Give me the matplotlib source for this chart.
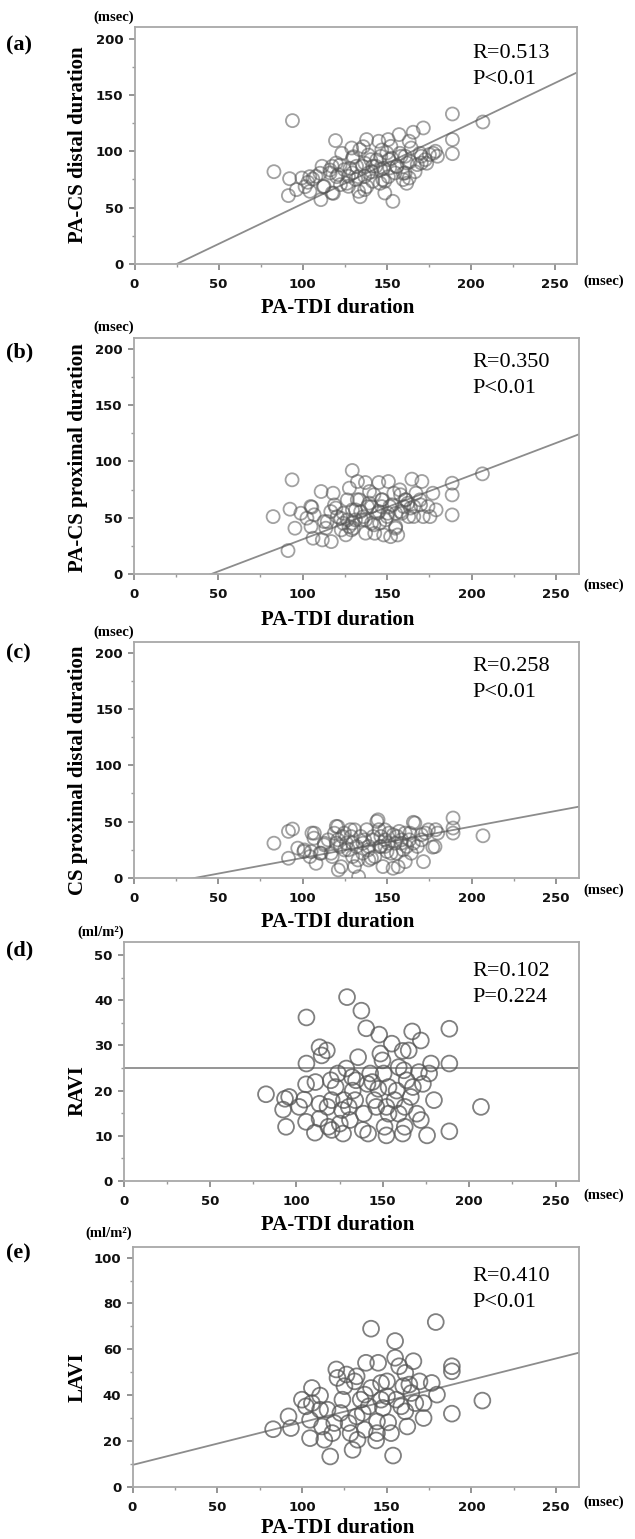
import matplotlib
matplotlib.use("Agg")
import matplotlib.pyplot as plt
from matplotlib.ticker import MultipleLocator

W, H = 635, 1539

# ---- data (PA-TDI duration in msec on x) ----
a_x = [82.9, 92.2, 91.5, 93.9, 96.3, 99.5, 103.1, 104.3, 106.0, 107.9, 110.8, 111.5, 112.7, 116.3,
       117.5, 119.5, 119.9, 121.1, 122.4, 124.8, 127.2, 129.1, 129.6, 131.5, 133.2, 133.9, 135.6,
       136.8, 138.0, 139.2, 140.4, 141.6, 143.5, 145.2, 146.4, 147.6, 148.8, 150.0, 150.8, 151.7,
       153.6, 154.9, 157.3, 158.5, 159.7, 162.1, 163.3, 164.5, 165.7, 168.1, 170.5, 171.7, 175.3,
       178.9, 180.1, 189.0, 189.0, 189.0, 207.1, 163.3, 132.0, 141.6, 151.3, 160.9, 136.8, 127.2,
       146.4, 156.0, 170.5, 117.5, 148.8, 129.6, 152.4, 160.9, 172.9,
       104.2, 110.3, 116.2, 120.2, 122.2, 128.1, 130.1, 133.1, 137.0, 139.0, 141.0, 144.0, 147.0,
       147.9, 150.9, 152.9, 155.9, 157.8, 159.8, 163.8, 166.8, 169.7, 173.7, 177.6, 112.3, 126.2,
       138.1, 146.0, 134.1, 118.2, 101.4, 161.8, 123.2, 136.0]
a_y = [81.9, 75.7, 60.7, 127.2, 66.0, 76.3, 72.5, 64.5, 75.4, 77.8, 57.1, 86.7, 68.9, 80.8,
       63.0, 109.5, 89.6, 79.3, 70.4, 83.7, 77.8, 102.9, 94.1, 74.9, 64.5, 101.5, 86.7,
       66.0, 110.4, 80.8, 92.6, 73.4, 86.7, 108.9, 95.6, 74.9, 63.0, 98.5, 110.4, 85.2,
       55.6, 80.8, 114.8, 95.6, 74.9, 89.6, 76.3, 102.9, 116.9, 88.2, 95.6, 120.7, 97.1,
       100.0, 95.6, 133.1, 110.4, 97.9, 126.0, 108.9, 86.7, 86.7, 92.6, 95.6, 77.8, 68.9,
       83.7, 86.7, 89.6, 86.7, 73.4, 80.8, 104.4, 80.8, 92.6,
       77.5, 80.5, 83.4, 77.5, 87.8, 84.9, 95.2, 77.5, 89.4, 96.7, 81.9, 92.3, 101.2,
       84.9, 77.5, 93.8, 86.3, 98.2, 80.5, 90.8, 81.9, 98.2, 89.4, 98.2, 68.6, 71.6,
       68.6, 71.6, 59.7, 62.7, 68.6, 71.6, 98.2, 104.1]

b_x = [82.6, 91.4, 92.6, 93.8, 95.5, 99.0, 102.6, 105.0, 105.5, 106.2, 111.0, 111.7, 114.6, 117.0,
       118.1, 118.9, 120.5, 122.9, 124.1, 126.5, 127.7, 129.4, 130.0, 131.3, 132.5, 133.7, 134.9,
       137.2, 138.4, 139.6, 140.8, 142.7, 144.4, 145.1, 146.8, 148.0, 149.2, 150.8, 151.6, 154.0,
       155.1, 156.3, 157.5, 158.7, 161.1, 162.8, 164.7, 165.9, 167.1, 170.6, 171.4, 174.2, 175.4,
       177.1, 179.0, 188.5, 188.5, 188.5, 206.4, 131.3, 140.8, 150.4, 159.9, 136.1, 124.1, 145.6,
       155.1, 162.3, 126.5, 146.8, 169.5, 128.9,
       104.9, 106.9, 112.8, 116.7, 119.7, 122.6, 127.5, 129.5, 132.4, 134.4, 137.3, 139.3, 142.2,
       145.2, 147.1, 150.1, 153.0, 155.0, 158.0, 160.9, 163.9, 165.8, 169.8, 125.6, 137.3, 152.1,
       113.8, 142.2, 129.5, 158.0]
b_y = [51.0, 20.8, 57.6, 83.7, 40.7, 54.0, 49.6, 42.1, 59.3, 31.8, 73.3, 30.3, 46.6, 28.8,
       71.8, 61.4, 51.0, 39.2, 54.0, 48.1, 76.3, 92.0, 40.7, 57.0, 82.2, 65.9, 48.1,
       81.3, 59.9, 73.3, 45.1, 36.2, 54.0, 81.3, 65.9, 34.7, 48.1, 82.2, 59.9, 71.8,
       42.1, 34.7, 74.8, 54.0, 65.9, 51.0, 84.3, 59.9, 71.8, 82.2, 51.0, 59.9, 51.0,
       71.8, 57.0, 80.7, 70.3, 52.5, 89.0, 48.1, 59.9, 54.0, 59.9, 51.0, 45.1, 45.1,
       54.0, 62.9, 65.9, 59.9, 65.9, 39.2,
       60.0, 52.6, 46.6, 55.5, 58.6, 49.6, 42.2, 45.2, 66.0, 55.5, 48.1, 63.0, 43.7,
       55.5, 66.0, 51.1, 61.5, 40.7, 55.5, 66.0, 58.6, 51.1, 61.5, 34.8, 36.3, 33.2,
       40.7, 70.4, 57.0, 70.4]

c_x = [83.0, 91.6, 91.6, 94.0, 97.1, 100.7, 104.3, 105.5, 106.7, 107.9, 110.3, 112.7, 115.1, 117.5,
       119.9, 121.1, 122.3, 123.5, 125.9, 128.3, 129.5, 130.7, 131.9, 133.1, 134.3, 135.5, 137.9,
       139.1, 141.5, 143.9, 145.1, 146.3, 147.5, 148.7, 149.9, 151.1, 153.5, 154.7, 157.1, 159.5,
       160.7, 163.1, 164.3, 165.5, 167.9, 170.3, 171.5, 172.7, 177.0, 178.7, 179.9, 189.0, 189.0,
       189.0, 206.7, 129.5, 139.1, 148.7, 158.3, 127.1, 136.7, 146.3, 155.9, 165.5, 119.9, 142.7,
       152.3, 124.7, 160.7,
       105.0, 106.9, 112.9, 116.8, 120.8, 120.8, 124.8, 128.7, 130.7, 132.7, 135.7, 138.7, 141.7,
       144.6, 145.6, 148.6, 150.6, 153.6, 155.5, 158.5, 161.5, 163.5, 166.4, 170.4, 174.4, 178.3,
       122.8, 118.8, 140.7, 110.9, 101.0, 156.5]
c_y = [30.7, 17.3, 41.2, 43.3, 26.3, 23.3, 18.8, 39.7, 35.2, 12.8, 21.8, 29.3, 33.7, 18.8,
       45.7, 6.9, 27.8, 36.7, 30.7, 42.7, 18.8, 9.9, 27.8, 0.9, 36.7, 21.8, 42.7,
       15.8, 33.7, 50.1, 42.7, 27.8, 9.9, 33.7, 23.3, 39.7, 8.4, 30.7, 41.2, 24.8,
       14.3, 33.7, 21.8, 49.3, 27.8, 38.2, 14.3, 39.7, 27.2, 42.7, 39.7, 53.1, 44.2,
       39.7, 37.3, 30.7, 27.8, 27.8, 30.7, 24.8, 33.7, 36.7, 36.7, 30.7, 30.7, 18.8,
       21.8, 39.7, 39.7,
       23.2, 39.6, 30.7, 21.8, 45.5, 33.7, 24.7, 36.6, 42.6, 15.8, 30.7, 24.7, 36.6,
       51.5, 27.7, 42.6, 30.7, 38.1, 21.8, 33.7, 27.7, 39.6, 48.6, 33.7, 42.6, 27.7,
       9.8, 39.6, 17.3, 21.8, 24.7, 9.8]

d_x = [82.4, 93.4, 95.8, 92.3, 94.0, 101.6, 104.5, 105.6, 105.8, 105.8, 105.6, 110.7, 111.0, 113.4,
       117.6, 114.6, 113.4, 118.0, 118.5, 120.4, 119.9, 122.7, 124.0, 126.4, 127.0, 129.3, 128.9,
       130.3, 132.2, 132.6, 134.0, 135.7, 137.6, 139.0, 140.4, 142.7, 143.9, 145.1, 146.2, 147.9,
       148.6, 149.8, 150.5, 151.0, 152.1, 152.1, 153.3, 155.2, 156.8, 158.0, 159.2, 161.5, 161.5,
       162.2, 162.7, 162.7, 163.8, 166.2, 167.0, 167.4, 169.7, 170.9, 172.0, 172.0, 175.6, 176.8,
       177.9, 179.6, 188.5, 188.5, 188.5, 206.8, 138.4, 141.1, 131.0, 120.4, 147.4, 153.3, 159.2,
       165.0, 127.5, 125.1, 141.5, 113.4, 173.2, 134.5]
d_y = [19.2, 18.2, 18.6, 15.8, 12.0, 16.4, 18.0, 21.4, 26.0, 36.2, 13.1, 10.7, 21.9, 29.6,
       28.9, 27.8, 13.8, 16.4, 12.0, 11.3, 22.3, 20.8, 23.8, 15.7, 10.5, 40.7, 24.9,
       16.4, 23.0, 20.0, 17.9, 27.4, 37.7, 14.9, 33.8, 23.8, 21.9, 17.9, 16.4, 32.4,
       28.2, 26.7, 23.8, 12.0, 10.1, 16.4, 20.8, 30.4, 17.9, 20.0, 14.9, 10.5, 28.8,
       24.5, 12.0, 16.4, 22.3, 18.6, 33.1, 20.8, 14.9, 24.1, 31.1, 13.5, 10.1, 23.8,
       26.0, 17.9, 33.7, 26.0, 11.0, 16.4, 11.3, 21.5, 13.5, 17.9, 20.4, 14.9, 25.2,
       28.9, 17.9, 12.7, 10.5, 17.1, 21.5, 22.3]

e_x = [83.0, 92.1, 93.5, 100.0, 102.4, 104.8, 105.9, 105.9, 110.7, 111.9, 113.2, 115.1, 116.7, 117.9,
       120.3, 121.0, 122.7, 123.9, 126.3, 127.5, 129.9, 131.1, 132.3, 132.8, 134.7, 135.9, 137.8,
       137.1, 140.8, 140.8, 143.8, 144.3, 145.0, 146.7, 147.8, 150.2, 150.9, 152.6, 153.8, 155.0,
       155.0, 155.7, 157.4, 159.8, 161.0, 162.2, 163.4, 165.8, 166.9, 169.4, 171.8, 171.8, 176.6,
       179.0, 179.7, 188.5, 188.5, 188.5, 206.5, 125.1, 132.3, 139.5, 150.2, 158.6, 164.6, 119.1,
       128.7, 146.7, 137.1, 161.0, 104.8, 110.7, 144.3]
e_y = [25.1, 30.7, 25.6, 38.0, 35.1, 21.2, 43.1, 36.5, 39.8, 26.3, 20.5, 33.6, 13.2, 23.4,
       51.2, 47.5, 32.2, 38.0, 49.0, 27.8, 16.1, 46.0, 48.2, 20.5, 38.0, 32.2, 54.1,
       40.2, 69.0, 43.1, 20.2, 28.5, 54.1, 45.3, 34.4, 46.0, 28.1, 23.4, 13.6, 63.6,
       56.3, 38.0, 52.6, 43.9, 32.9, 26.3, 44.6, 54.8, 36.5, 46.0, 30.0, 36.5, 45.3,
       71.9, 40.2, 52.6, 50.4, 31.9, 37.6, 43.9, 30.7, 35.1, 39.5, 35.1, 40.9, 27.8,
       23.4, 38.0, 24.9, 49.7, 29.2, 33.6, 23.4]

panel_letters = ["(a)", "(b)", "(c)", "(d)", "(e)"]
y_labels = ["PA-CS distal duration", "PA-CS proximal duration", "CS proximal distal duration",
            "RAVI", "LAVI"]
y_units = ["(msec)", "(msec)", "(msec)", "(ml/m²)", "(ml/m²)"]
r_text = ["R=0.513", "R=0.350", "R=0.258", "R=0.102", "R=0.410"]
p_text = ["P<0.01", "P<0.01", "P<0.01", "P=0.224", "P<0.01"]
y_max = [210, 210, 210, 52.9, 104.8]
y_major = [50, 50, 50, 10, 20]
fit_slope = [0.714, 0.571, 0.279, 0.0, 0.186]
fit_intercept = [-17.9, -26.3, -10.3, 25.0, 9.5]
x_label = "PA-TDI duration"

panels = [(a_x, a_y), (b_x, b_y), (c_x, c_y), (d_x, d_y), (e_x, e_y)]

# ---- layout in reference pixels: left, right, top, bottom of each frame ----
boxes = [(134.5, 577.4, 27.3, 264.0),
         (133.5, 578.6, 337.7, 574.0),
         (133.7, 578.6, 641.7, 877.7),
         (123.6, 578.6, 942.0, 1181.0),
         (132.5, 578.6, 1246.7, 1486.7)]
letter_y = [45, 352, 653, 950, 1253]
unit_y = [17, 327, 632, 932, 1233]
r_base = [58, 367, 671, 976, 1281]
xlab_y = [308, 620, 922, 1225, 1528]
msec_y = [281, 585, 890, 1195, 1502]
ylab_y = [145, 458, 770, 1091, 1377]

SERIF = "Liberation Serif"


def fx(px):
    return px / W


def fy(py):
    return 1 - py / H


fig = plt.figure(figsize=(W / 100, H / 100), dpi=100)
frame_col = "#a8a8a8"

for i, (xs, ys) in enumerate(panels):
    l, r, t, b = boxes[i]
    ax = fig.add_axes([fx(l), fy(b), (r - l) / W, (b - t) / H])
    ax.set_xlim(0, 263.3)
    ax.set_ylim(0, y_max[i])

    big = i >= 3
    ax.scatter(xs, ys, s=130 if big else 88, facecolors="none",
               edgecolors="#555555", linewidths=1.3, alpha=0.75 if big else 0.55, zorder=3)

    # regression line over the whole x range
    xx = [0, 263.3]
    ax.plot(xx, [fit_intercept[i] + fit_slope[i] * v for v in xx],
            color="#8c8c8c", lw=1.3, zorder=2)

    for s in ax.spines.values():
        s.set_color(frame_col)
        s.set_linewidth(1.3)
    ax.xaxis.set_major_locator(MultipleLocator(50))
    ax.xaxis.set_minor_locator(MultipleLocator(25))
    ax.yaxis.set_major_locator(MultipleLocator(y_major[i]))
    ax.yaxis.set_minor_locator(MultipleLocator(y_major[i] / 2))
    ax.tick_params(which="major", length=4, width=1.1, color="#777777",
                   labelsize=9.5, labelcolor="#111111")
    ax.tick_params(which="minor", length=2.5, width=1.0, color="#999999")
    ax.tick_params(axis="x", pad=6)
    ax.tick_params(axis="y", pad=4)
    for lab in ax.get_xticklabels() + ax.get_yticklabels():
        lab.set_fontweight("bold")
        lab.set_family("DejaVu Sans")

    # texts around the frame
    fig.text(fx(6), fy(letter_y[i]), panel_letters[i], family=SERIF, weight="bold",
             fontsize=16, va="center", ha="left")
    fig.text(fx(l), fy(unit_y[i]), y_units[i], family=SERIF, weight="bold",
             fontsize=10.5, va="center", ha="right")
    fig.text(fx(583), fy(msec_y[i]), "(msec)", family=SERIF, weight="bold",
             fontsize=10.5, va="center", ha="left")
    fig.text(fx(338), fy(xlab_y[i]), x_label, family=SERIF, weight="bold",
             fontsize=15, va="center", ha="center")
    fig.text(fx(78), fy(ylab_y[i]), y_labels[i], family=SERIF, weight="bold",
             fontsize=15, va="center", ha="center", rotation=90)
    fig.text(fx(472), fy(r_base[i]), r_text[i], family=SERIF, fontsize=16,
             va="baseline", ha="left")
    fig.text(fx(472), fy(r_base[i] + 26), p_text[i], family=SERIF, fontsize=16,
             va="baseline", ha="left")

fig.savefig("out.png", dpi=100)
